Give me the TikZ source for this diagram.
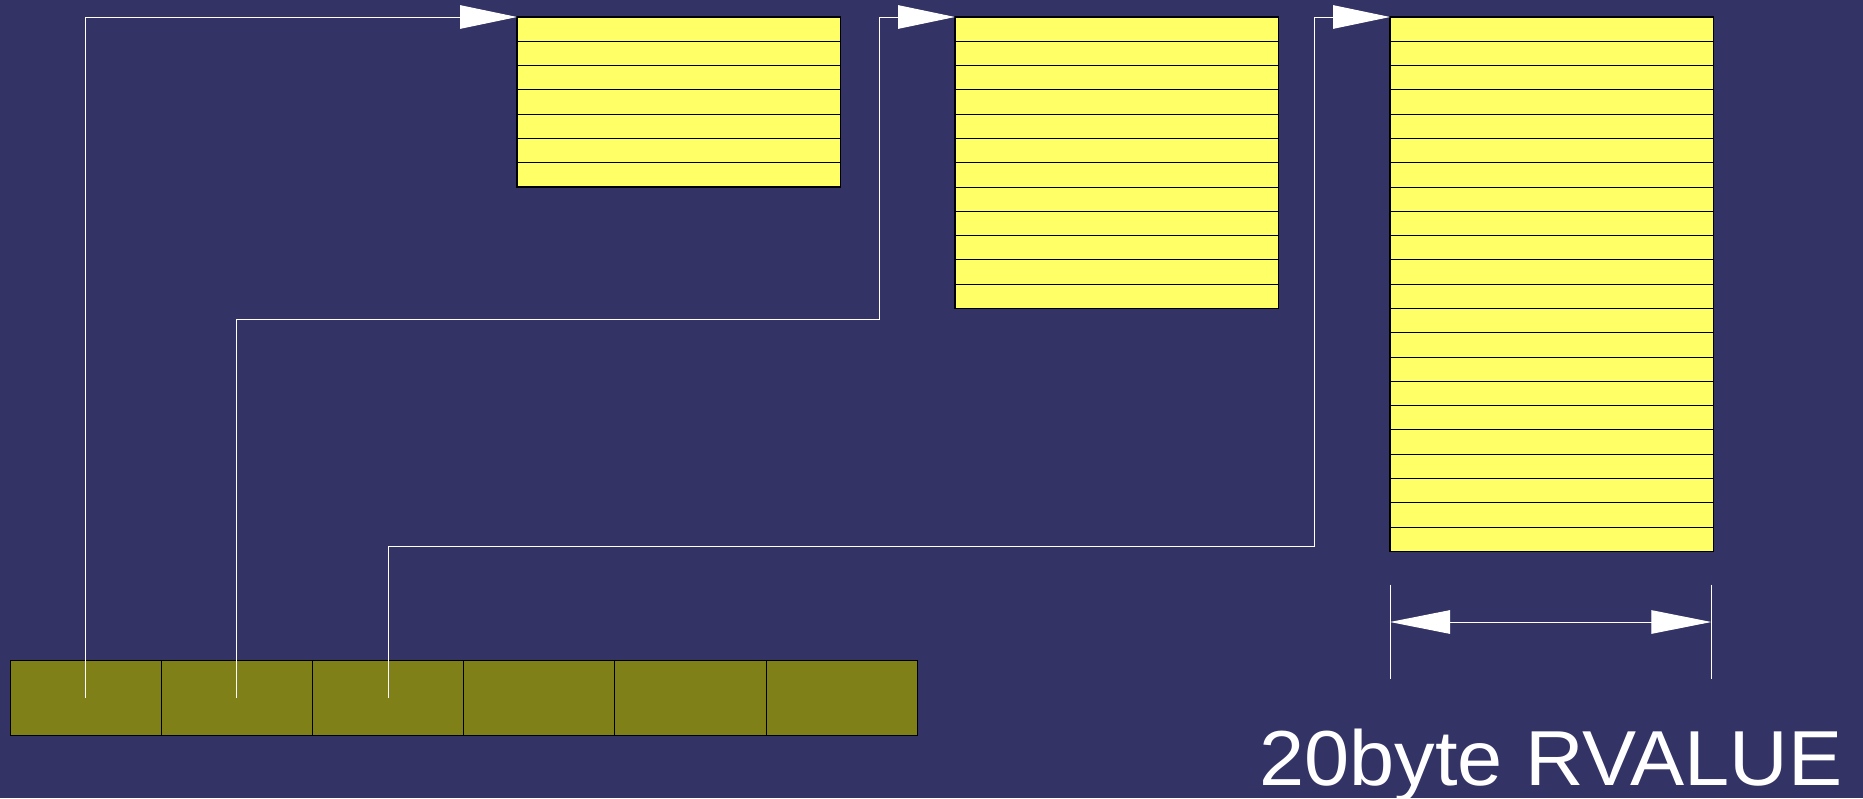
\documentclass[tikz,border=0pt]{standalone}
\usepackage{fontspec}
\setmainfont{Liberation Sans}
\usetikzlibrary{arrows.meta}
\definecolor{bgc}{RGB}{51,51,102}
\definecolor{yel}{RGB}{255,255,102}
\definecolor{oli}{RGB}{128,128,25}
\tikzset{
  ybox/.style={draw=black, line width=1.2pt, fill=yel, anchor=north west, minimum width=323.5pt, inner sep=0pt, outer sep=0pt},
  cell/.style={draw=black, line width=1pt, fill=oli, anchor=north west, minimum width=151.2pt, minimum height=75pt, inner sep=0pt, outer sep=0pt},
  rowline/.style={draw=black, line width=1pt},
  conn/.style={draw=white, line width=1pt, -{Triangle[length=57pt,width=23.5pt,fill=white]}},
  dimline/.style={draw=white, line width=1pt},
  dimarrow/.style={draw=white, line width=1pt, {Triangle[length=60pt,width=23.5pt,fill=white]}-{Triangle[length=60pt,width=23.5pt,fill=white]}},
  lbl/.style={text=white, font=\fontsize{78}{90}\selectfont, inner sep=0pt, xscale=1.04}
}
\begin{document}
\begin{tikzpicture}[x=1pt,y=-1pt]
\fill[bgc] (0,0) rectangle (1863,798);
\useasboundingbox (0,0) rectangle (1863,798);
% yellow boxes
\node[ybox, minimum height=170pt] (b1) at (517,17) {};
\node[ybox, minimum height=291.5pt] (b2) at (955,17) {};
\node[ybox, minimum height=534.4pt] (b3) at (1390,17) {};
\foreach \i in {1,...,6} \draw[rowline] (517,17+\i*24.29) -- (840.5,17+\i*24.29);
\foreach \i in {1,...,11} \draw[rowline] (955,17+\i*24.29) -- (1278.5,17+\i*24.29);
\foreach \i in {1,...,21} \draw[rowline] (1390,17+\i*24.29) -- (1713.5,17+\i*24.29);
% bottom bar
\foreach \i in {1,...,6} \node[cell] (c\i) at ({10+(\i-1)*151.2},660) {};
% connectors
\draw[conn] (c1.center) |- (b1.north west);
\coordinate (k2) at (879.5,319.6);
\draw[conn] (c2.center) |- (k2) |- (b2.north west);
\coordinate (k3) at (1314.3,546.6);
\draw[conn] (c3.center) |- (k3) |- (b3.north west);
% dimension
\coordinate (d1a) at (1390,584.6);
\coordinate (d1b) at (1390,678.5);
\coordinate (d2a) at (1711.3,584.6);
\coordinate (d2b) at (1711.3,678.5);
\draw[dimline] (d1a) -- (d1b);
\draw[dimline] (d2a) -- (d2b);
\coordinate (m1) at (1390,622);
\coordinate (m2) at (1711.3,622);
\draw[dimarrow] (m1) -- (m2);
\node[lbl, anchor=base west] (t) at (1259,785) {20byte RVALUE};
\end{tikzpicture}
\end{document}
